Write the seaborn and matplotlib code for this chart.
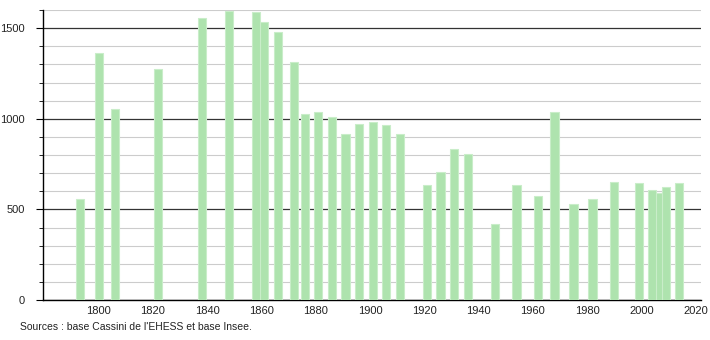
import matplotlib
matplotlib.use("Agg")
import matplotlib.pyplot as plt
import seaborn as sns
import numpy as np
import pandas as pd
from matplotlib.ticker import MultipleLocator

years = [1793, 1800, 1806, 1822, 1838, 1848, 1858, 1861, 1866, 1872, 1876,
         1881, 1886, 1891, 1896, 1901, 1906, 1911, 1921, 1926, 1931, 1936,
         1946, 1954, 1962, 1968, 1975, 1982, 1990, 1999, 2004, 2006, 2009, 2014]
population = [559, 1365, 1052, 1277, 1557, 1592, 1588, 1536, 1478, 1314, 1026,
              1039, 1011, 917, 972, 982, 966, 917, 635, 707, 832, 804,
              422, 635, 574, 1037, 528, 556, 652, 648, 607, 592, 624, 648]
xticks = [1800, 1820, 1840, 1860, 1880, 1900, 1920, 1940, 1960, 1980, 2000, 2020]
source_text = "Sources : base Cassini de l'EHESS et base Insee."

df = pd.DataFrame({"year": years, "pop": population})

sns.set_theme(style="white")
plt.rcParams['font.family'] = ['Liberation Sans', 'DejaVu Sans']

fig = plt.figure(figsize=(7.1, 3.4), dpi=100)
ax = fig.add_axes([43 / 710, 40 / 340, (701 - 43) / 710, 290 / 340])

min_gap = np.min(np.diff(np.unique(years)))
sns.barplot(data=df, x="year", y="pop", native_scale=True, width=3.0 / min_gap,
            color="#aee3ae", saturation=1, edgecolor="#c9edc9", linewidth=0.8,
            errorbar=None, ax=ax)

n = len(ax.patches)
for i, p in enumerate(ax.patches):
    p.set_zorder(3 + (n - i) * 0.001)

ax.set_xlim(1779.5, 2022)
ax.set_ylim(0, 1600)
ax.set_xticks(xticks)
ax.set_xticklabels([str(t) for t in xticks], fontsize=8, color="#222222")
ax.yaxis.set_major_locator(MultipleLocator(500))
ax.yaxis.set_minor_locator(MultipleLocator(100))
ax.tick_params(axis="y", which="major", length=5, width=0.8, color="black",
               labelsize=8, labelcolor="#222222", left=True, pad=8)
ax.tick_params(axis="y", which="minor", length=3, width=0.6, color="black", left=True)
ax.tick_params(axis="x", which="both", length=0, labelsize=8, pad=4)

ax.set_axisbelow(True)
ax.grid(False)
ax.yaxis.grid(True, which="minor", color="#cccccc", linewidth=0.8)
ax.yaxis.grid(True, which="major", color="#333333", linewidth=0.9)

for s in ["top", "right"]:
    ax.spines[s].set_visible(False)
for s in ["left", "bottom"]:
    ax.spines[s].set_color("black")
    ax.spines[s].set_linewidth(1.0)

ax.set_xlabel("")
ax.set_ylabel("")

fig.text(20 / 710, 1 - 327 / 340, source_text, fontsize=7.5, color="#222222",
         va="center", ha="left")

fig.savefig("out.png", dpi=100, facecolor="white")
